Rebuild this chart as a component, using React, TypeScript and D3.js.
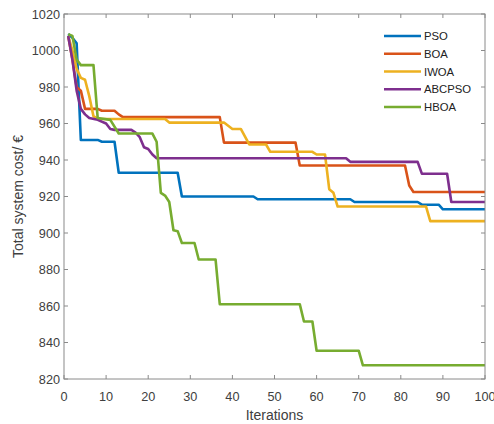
import React from "react";
import * as d3 from "d3";

const seriesNames = ["PSO", "BOA", "IWOA", "ABCPSO", "HBOA"];
const seriesColors = ["#0072BD", "#D95319", "#EDB120", "#7E2F8E", "#77AC30"];

const psoData: [number, number][] = [
  [1, 1009], [2, 1007], [3, 1004], [4, 951], [8, 951], [9, 950], [12, 950], [13, 933],
  [27, 933], [28, 920], [45, 920], [46, 918.5], [68, 918.5], [69, 917], [84, 917],
  [85, 915.5], [89, 915.5], [90, 913], [100, 913],
];
const boaData: [number, number][] = [
  [1, 1008], [2, 995], [3, 980], [4, 978], [5, 968], [8, 968], [9, 967], [12, 967],
  [13, 965], [14, 963.5], [37, 963.5], [38, 949.5], [55, 949.5], [56, 937], [81, 937],
  [82, 926], [83, 922.5], [100, 922.5],
];
const iwoaData: [number, number][] = [
  [1, 1008], [2, 1000], [3, 990], [4, 985], [5, 984], [6, 975], [7, 964], [8, 962.5],
  [24, 962.5], [25, 960.5], [38, 960.5], [40, 957], [42, 957], [44, 948.5], [48, 948.5],
  [49, 944.5], [59, 944.5], [60, 943], [62, 943], [63, 924], [64, 922], [65, 914.5],
  [86, 914.5], [87, 906.5], [100, 906.5],
];
const abcpsoData: [number, number][] = [
  [1, 1008], [2, 995], [3, 978], [4, 968], [5, 965], [6, 963], [8, 962], [10, 960],
  [11, 957], [12, 956.5], [16, 956.5], [17, 955], [18, 952.5], [19, 947], [20, 946],
  [21, 943], [22, 941], [67, 941], [68, 939], [84, 939], [85, 932.5], [91, 932.5],
  [92, 917], [100, 917],
];
const hboaData: [number, number][] = [
  [1, 1009], [2, 1008], [3, 995], [4, 992], [7, 992], [8, 963], [11, 962], [13, 954.5],
  [21, 954.5], [22, 950], [23, 922], [24, 920.5], [25, 917], [26, 901.5], [27, 901],
  [28, 894.5], [31, 894.5], [32, 885.5], [36, 885.5], [37, 861], [56, 861], [57, 851.5],
  [59, 851.5], [60, 835.5], [70, 835.5], [71, 827.5], [100, 827.5],
];
const allSeries = [psoData, boaData, iwoaData, abcpsoData, hboaData];

const xTicks = [0, 10, 20, 30, 40, 50, 60, 70, 80, 90, 100];
const yTicks = [820, 840, 860, 880, 900, 920, 940, 960, 980, 1000, 1020];
const xLabel = "Iterations";
const yLabel = "Total system cost/ €";

const W = 494, H = 424;
const L = 64, R = 485, T = 14, B = 379;
const FONT = "'Liberation Sans', Arial, Helvetica, sans-serif";
const AX = "#8a8a8a";
const TXT = "#404040";

export default function App() {
  const x = d3.scaleLinear().domain([0, 100]).range([L, R]);
  const y = d3.scaleLinear().domain([820, 1020]).range([B, T]);
  const line = d3.line<[number, number]>().x((d) => x(d[0])).y((d) => y(d[1]));
  const tl = 4;
  const legX0 = 384, legX1 = 421, legTX = 424, legY0 = 36, legDY = 17.75;

  return (
    <svg width={W} height={H} style={{ position: "absolute", left: 0, top: 0, background: "#fff" }}
      fontFamily={FONT}>
      <rect x={0} y={0} width={W} height={H} fill="#fff" />
      <defs>
        <clipPath id="pc"><rect x={L} y={T - 2} width={R - L} height={B - T + 4} /></clipPath>
      </defs>
      {allSeries.map((s, i) => (
        <path key={seriesNames[i]} d={line(s) || ""} fill="none" stroke={seriesColors[i]}
          strokeWidth={2.6} strokeLinejoin="round" clipPath="url(#pc)" />
      ))}
      <rect x={L} y={T} width={R - L} height={B - T} fill="none" stroke={AX} strokeWidth={1} />
      {xTicks.map((t) => (
        <g key={"x" + t}>
          <line x1={x(t)} x2={x(t)} y1={B} y2={B - tl} stroke={AX} />
          <line x1={x(t)} x2={x(t)} y1={T} y2={T + tl} stroke={AX} />
          <text x={x(t)} y={401} textAnchor="middle" fontSize={12.7} fill={TXT}>{t}</text>
        </g>
      ))}
      {yTicks.map((t) => (
        <g key={"y" + t}>
          <line x1={L} x2={L + tl} y1={y(t)} y2={y(t)} stroke={AX} />
          <line x1={R} x2={R - tl} y1={y(t)} y2={y(t)} stroke={AX} />
          <text x={60} y={y(t) + 4.5} textAnchor="end" fontSize={12.7} fill={TXT}>{t}</text>
        </g>
      ))}
      <text x={(L + R) / 2} y={420} textAnchor="middle" fontSize={14} fill={TXT}>{xLabel}</text>
      <text transform={`translate(23,${(T + B) / 2}) rotate(-90)`} textAnchor="middle" fontSize={14}
        fill={TXT}>{yLabel}</text>
      {seriesNames.map((n, i) => (
        <g key={"leg" + n}>
          <line x1={legX0} x2={legX1} y1={legY0 + i * legDY} y2={legY0 + i * legDY}
            stroke={seriesColors[i]} strokeWidth={2.6} />
          <text x={legTX} y={legY0 + i * legDY + 4} fontSize={11.3} fill="#222">{n}</text>
        </g>
      ))}
    </svg>
  );
}
